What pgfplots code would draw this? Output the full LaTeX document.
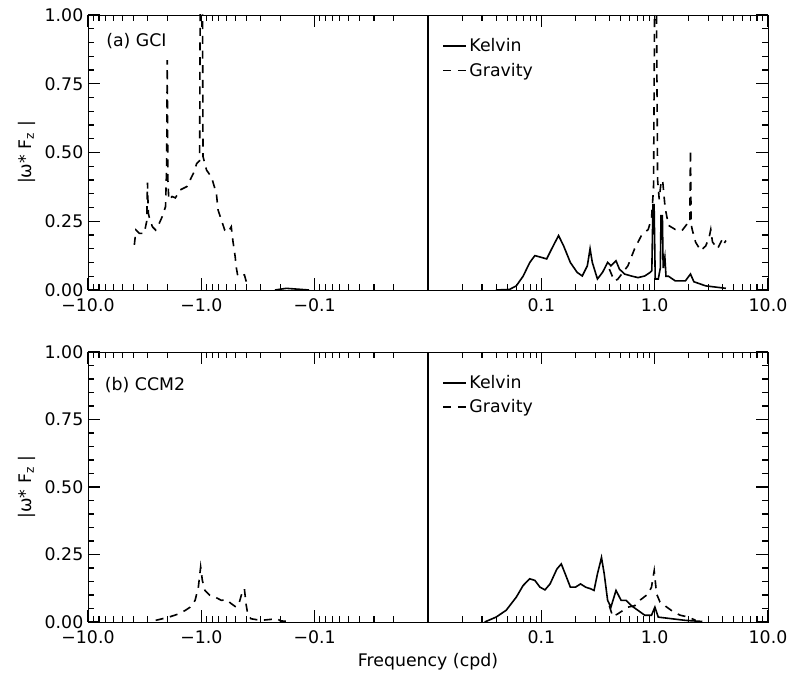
\documentclass[border=0pt]{standalone}
\usepackage{pgfplots}
\pgfplotsset{compat=1.18}
\usepackage{fontspec}
\setmainfont{DejaVu Sans}
\tikzset{kel/.style={black, line width=1.2pt}, gra/.style={black, line width=1.2pt, dash pattern=on 6pt off 5pt}}
\newcommand{\fs}{\fontsize{13}{15}\selectfont}
\pgfplotsset{
  panel/.style={
    width=510pt, scale only axis,
    xmin=-3, xmax=3, ymin=0, ymax=1,
    tick label style={font=\fs},
    label style={font=\fs},
    xtick={-3,-2,-1,1,2,3},
    xticklabels={−10.0,−1.0,−0.1,0.1,1.0,10.0},
    xticklabel style={yshift=-3pt},
    minor xtick={-2.301,-2.477,-2.602,-2.699,-2.778,-2.845,-2.903,-2.954,-1.301,-1.477,-1.602,-1.699,-1.778,-1.845,-1.903,-1.954,-0.301,-0.477,-0.602,-0.699,-0.778,-0.845,-0.903,-0.954,0.301,0.477,0.602,0.699,0.778,0.845,0.903,0.954,1.301,1.477,1.602,1.699,1.778,1.845,1.903,1.954,2.301,2.477,2.602,2.699,2.778,2.845,2.903,2.954},
    ytick={0,0.25,0.5,0.75,1},
    minor y tick num=4,
    yticklabel style={/pgf/number format/.cd,fixed,fixed zerofill,precision=2,assume math mode=true},
    tick align=inside,
    major tick length=9pt, minor tick length=4.5pt,
    tick style={black, line width=0.9pt},
    ylabel={|ω* F\textsubscript{z} |},
    legend style={draw=none, fill=none, at={(0.515,0.935)}, anchor=north west,
                  font=\fs, row sep=3pt},
    legend cell align=left,
  },
}
\begin{document}
\begin{tikzpicture}
\path (0pt,0pt) rectangle (594pt,513pt);
% ---------------- (a) GCI ----------------
\begin{axis}[panel, height=206.25pt, at={(66pt,295.5pt)}, anchor=south west]
\addplot[kel] coordinates {
(0.60,0) (0.719,0.002) (0.779,0.015) (0.839,0.05) (0.898,0.10) (0.943,0.125)
(0.988,0.12) (1.047,0.113) (1.092,0.15) (1.152,0.198) (1.197,0.16) (1.256,0.10)
(1.316,0.064) (1.361,0.051) (1.406,0.088) (1.430,0.15) (1.450,0.10) (1.495,0.04)
(1.540,0.064) (1.585,0.10) (1.614,0.088) (1.659,0.106) (1.689,0.076) (1.734,0.058)
(1.793,0.051) (1.853,0.045) (1.913,0.051) (1.960,0.064) (1.975,0.07) (1.985,0.31)
(1.995,0.31) (2.005,0.04) (2.032,0.04) (2.050,0.08) (2.056,0.27) (2.068,0.27)
(2.075,0.08) (2.090,0.12) (2.100,0.05) (2.122,0.05) (2.182,0.033) (2.271,0.033)
(2.316,0.058) (2.346,0.03) (2.450,0.015) (2.510,0.012) (2.629,0.006)
};
\addlegendentry{Kelvin}
\addplot[gra] coordinates {
(1.600,0.076) (1.644,0.033) (1.674,0.039) (1.764,0.088) (1.823,0.15) (1.883,0.198)
(1.943,0.22) (1.972,0.26) (1.990,0.37) (2.000,1.08) (2.015,1.08) (2.026,0.40)
(2.040,0.33) (2.056,0.39) (2.070,0.40) (2.092,0.30) (2.122,0.235) (2.182,0.22)
(2.241,0.216) (2.286,0.24) (2.310,0.24) (2.316,0.51) (2.322,0.24) (2.331,0.22)
(2.361,0.174) (2.406,0.143) (2.450,0.16) (2.480,0.19) (2.495,0.22) (2.510,0.175)
(2.555,0.15) (2.599,0.186) (2.614,0.17) (2.629,0.18)
};
\addlegendentry{Gravity}
\addplot[gra, forget plot] coordinates {
(-2.591,0.164) (-2.577,0.218) (-2.548,0.206) (-2.504,0.206) (-2.482,0.25) (-2.475,0.39)
(-2.468,0.28) (-2.461,0.267) (-2.432,0.23) (-2.403,0.218) (-2.374,0.24) (-2.345,0.267)
(-2.316,0.303) (-2.306,0.45) (-2.301,0.836) (-2.295,0.40) (-2.287,0.327) (-2.258,0.34)
(-2.229,0.335) (-2.186,0.364) (-2.128,0.376) (-2.070,0.424) (-2.041,0.46) (-2.015,0.47)
(-2.010,1.08) (-1.990,1.08) (-1.985,0.485) (-1.954,0.436) (-1.910,0.41) (-1.867,0.35)
(-1.852,0.29) (-1.823,0.255) (-1.794,0.218) (-1.765,0.21) (-1.736,0.23) (-1.722,0.18)
(-1.701,0.12) (-1.693,0.085) (-1.678,0.05) (-1.620,0.055) (-1.591,0.012)
};
\addplot[kel, forget plot] coordinates {(-1.35,0) (-1.25,0.006) (-1.15,0.003) (-1.05,0)};
\addplot[black, line width=1.3pt, forget plot] coordinates {(0,0) (0,1)};
\node[anchor=west, font=\fs] at (rel axis cs:0.02,0.905) {(a) GCI};
\end{axis}
% ---------------- (b) CCM2 ----------------
\begin{axis}[panel, height=202.5pt, at={(66pt,46.5pt)}, anchor=south west,
  xlabel={Frequency (cpd)}]
\addplot[kel] coordinates {
(0.50,0) (0.600,0.018) (0.689,0.043) (0.779,0.092) (0.839,0.135) (0.898,0.16)
(0.943,0.154) (0.988,0.129) (1.032,0.119) (1.077,0.141) (1.137,0.196) (1.176,0.215)
(1.211,0.178) (1.256,0.129) (1.301,0.129) (1.346,0.141) (1.391,0.129) (1.435,0.123)
(1.465,0.117) (1.495,0.178) (1.531,0.239) (1.555,0.178) (1.585,0.08) (1.614,0.055)
(1.659,0.117) (1.704,0.08) (1.749,0.08) (1.793,0.061) (1.853,0.043) (1.913,0.025)
(1.972,0.025) (2.002,0.055) (2.032,0.018) (2.152,0.012) (2.271,0.006) (2.420,0.002)
};
\addlegendentry{Kelvin}
\addplot[gra] coordinates {
(1.600,0.06) (1.630,0.02) (1.674,0.03) (1.764,0.055) (1.823,0.06) (1.868,0.08)
(1.943,0.104) (1.972,0.129) (1.996,0.19) (2.017,0.104) (2.047,0.074) (2.107,0.055)
(2.167,0.037) (2.226,0.025) (2.301,0.018) (2.361,0.006)
};
\addlegendentry{Gravity}
\addplot[gra, forget plot] coordinates {
(-2.403,0.006) (-2.287,0.018) (-2.200,0.03) (-2.142,0.043) (-2.099,0.055) (-2.055,0.08)
(-2.026,0.13) (-2.006,0.204) (-1.991,0.154) (-1.968,0.117) (-1.925,0.099) (-1.881,0.093)
(-1.823,0.08) (-1.780,0.083) (-1.736,0.068) (-1.693,0.055) (-1.664,0.074) (-1.635,0.117)
(-1.620,0.123) (-1.606,0.068) (-1.591,0.03) (-1.562,0.012) (-1.475,0.006) (-1.330,0.012)
(-1.302,0.004) (-1.215,0.002)
};
\addplot[black, line width=1.3pt, forget plot] coordinates {(0,0) (0,1)};
\node[anchor=west, font=\fs] at (rel axis cs:0.018,0.878) {(b) CCM2};
\end{axis}
\end{tikzpicture}
\end{document}
